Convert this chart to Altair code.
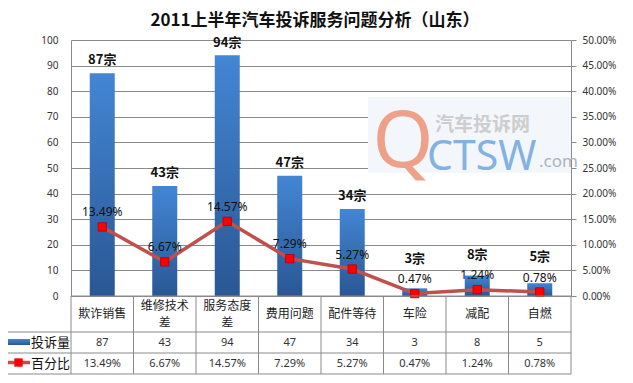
import altair as alt
import pandas as pd

# ---------------- data ----------------
categories = ["欺诈销售", "维修技术差", "服务态度差", "费用问题", "配件等待", "车险", "减配", "自燃"]
table_labels = ["欺诈销售", "维修技术\n差", "服务态度\n差", "费用问题", "配件等待", "车险", "减配", "自燃"]
counts = [87, 43, 94, 47, 34, 3, 8, 5]
pcts = [0.1349, 0.0667, 0.1457, 0.0729, 0.0527, 0.0047, 0.0124, 0.0078]
left_ticks = [0, 10, 20, 30, 40, 50, 60, 70, 80, 90, 100]
right_ticks = [0.0, 0.05, 0.10, 0.15, 0.20, 0.25, 0.30, 0.35, 0.40, 0.45, 0.50]
title_text = "2011上半年汽车投诉服务问题分析（山东）"
series_names = ["投诉量", "百分比"]

df = pd.DataFrame({"cat": categories, "label": table_labels, "count": counts, "pct": pcts})
df["count_label"] = [f"{c}宗" for c in counts]
df["count_str"] = [str(c) for c in counts]
df["pct_label"] = [f"{p * 100:.2f}%" for p in pcts]
one = pd.DataFrame({"k": [0]})

CJK = "Noto Sans CJK SC"
LAT = "Noto Sans"
GRID = "#8a8a8a"
BAR_TOP = "#4386D4"
BAR_BOT = "#2A5794"
LINE = "#C0504D"
MARK = "#FF0000"

W, H = 500, 256

xenc = alt.X("cat:N", sort=categories,
             scale=alt.Scale(domain=categories, paddingInner=0.6, paddingOuter=0.3),
             axis=None)

bar_grad = alt.Gradient(gradient="linear",
                        stops=[alt.GradientStop(color=BAR_TOP, offset=0),
                               alt.GradientStop(color=BAR_BOT, offset=1)],
                        x1=0, x2=0, y1=0, y2=1)

left_axis = alt.Axis(values=left_ticks, title=None, grid=True, gridColor=GRID,
                     domainColor=GRID, ticks=False, labelPadding=13, labelOverlap=False,
                     labelFont=LAT, labelFontSize=10, labelColor="#333333")
left_scale = alt.Scale(domain=[0, 100])

base = alt.Chart(df)
bars = base.mark_bar(color=bar_grad).encode(
    x=xenc, y=alt.Y("count:Q", scale=left_scale, axis=left_axis))
# bar label sits above its bar, but never lower than just above the percentage label
bar_labels = base.transform_calculate(
    label_y="max(datum.count + 5, datum.pct * 200 + 13.5)"
).mark_text(font=CJK, fontSize=13, fontWeight="bold", color="#111111").encode(
    x=xenc, y=alt.Y("label_y:Q", scale=left_scale, axis=left_axis), text="count_label:N")
left_layer = alt.layer(bars, bar_labels)

right_axis = alt.Axis(orient="right", values=right_ticks, format=".2%", title=None,
                      grid=False, domainColor=GRID, tickColor=GRID, tickSize=5,
                      labelPadding=6, labelFont=LAT, labelFontSize=10, labelOverlap=False,
                      labelColor="#333333")
right_scale = alt.Scale(domain=[0, 0.5])
yr = alt.Y("pct:Q", scale=right_scale, axis=right_axis)
line = base.mark_line(color=LINE, strokeWidth=3.5).encode(x=xenc, y=yr)
points = base.mark_point(shape="square", filled=True, size=70, color=MARK,
                         stroke="#B00000", strokeWidth=0.8, opacity=1).encode(x=xenc, y=yr)
pct_labels = base.mark_text(font=LAT, fontSize=12, dy=-14.5, color="#111111").encode(
    x=xenc, y=yr, text="pct_label:N")
right_layer = alt.layer(line, points, pct_labels)

# ---------------- data table ----------------
tbl_cat1 = base.transform_filter("indexof(datum.label, '\\n') < 0").mark_text(
    font=CJK, fontSize=12, color="#222222").encode(
    x=xenc, y=alt.value(274), text="label:N")
tbl_cat2 = base.transform_filter("indexof(datum.label, '\\n') >= 0").mark_text(
    font=CJK, fontSize=12, lineBreak="\n", lineHeight=17, color="#222222").encode(
    x=xenc, y=alt.value(265.5), text="label:N")
tbl_cnt = base.mark_text(font=LAT, fontSize=11, color="#333333").encode(
    x=xenc, y=alt.value(302.5), text="count_str:N")
tbl_pct = base.mark_text(font=LAT, fontSize=11, color="#333333").encode(
    x=xenc, y=alt.value(323.5), text="pct_label:N")

vlines = base.mark_rule(color=GRID, xOffset=-31.25).encode(
    x=xenc, y=alt.value(256), y2=alt.value(334))
vline_end = alt.Chart(one).mark_rule(color=GRID).encode(
    x=alt.value(W), y=alt.value(256), y2=alt.value(334))
vline_left = alt.Chart(one).mark_rule(color=GRID).encode(
    x=alt.value(-66), y=alt.value(292), y2=alt.value(334))
hline_axis = alt.Chart(one).mark_rule(color=GRID).encode(
    x=alt.value(0), x2=alt.value(W), y=alt.value(256))
hlines = [alt.Chart(one).mark_rule(color=GRID).encode(
    x=alt.value(-66), x2=alt.value(W), y=alt.value(yy)) for yy in (292, 313, 334)]

leg_rect = alt.Chart(one).mark_rect(color=bar_grad).encode(
    x=alt.value(-64), x2=alt.value(-41), y=alt.value(299), y2=alt.value(305))
leg_line = alt.Chart(one).mark_rule(color=LINE, strokeWidth=3.5).encode(
    x=alt.value(-64), x2=alt.value(-41), y=alt.value(322.5))
leg_pt = alt.Chart(one).mark_point(shape="square", filled=True, size=70, color=MARK,
                                   opacity=1).encode(x=alt.value(-52.5), y=alt.value(322.5))
leg_t1 = alt.Chart(one).mark_text(font=CJK, fontSize=13, align="left", color="#111111").encode(
    x=alt.value(-40), y=alt.value(302.5), text=alt.value(series_names[0]))
leg_t2 = alt.Chart(one).mark_text(font=CJK, fontSize=13, align="left", color="#111111").encode(
    x=alt.value(-40), y=alt.value(323.5), text=alt.value(series_names[1]))

# ---------------- title ----------------
title = alt.Chart(one).mark_text(font=CJK, fontSize=17, fontWeight="bold",
                                 color="#111111").encode(
    x=alt.value(244), y=alt.value(-19), text=alt.value(title_text))

# ---------------- watermark ----------------
wm_bg = alt.Chart(one).mark_rect(color="#F3F7FC").encode(
    x=alt.value(297), x2=alt.value(W), y=alt.value(57), y2=alt.value(133))
wm_q = alt.Chart(one).mark_text(font=LAT, fontSize=78, color="#EE9275", opacity=0.85,
                                baseline="alphabetic").encode(
    x=alt.value(332), y=alt.value(127), text=alt.value("Q"))
wm_ctsw = alt.Chart(one).mark_text(font=LAT, fontSize=41, color="#6FA6DE", opacity=0.85,
                                   align="left", baseline="alphabetic").encode(
    x=alt.value(356), y=alt.value(130), text=alt.value("CTSW"))
wm_com = alt.Chart(one).mark_text(font=LAT, fontSize=17, color="#A9B4C0", align="left",
                                  baseline="alphabetic").encode(
    x=alt.value(468), y=alt.value(127), text=alt.value(".com"))
wm_cn = alt.Chart(one).mark_text(font=CJK, fontSize=19, fontWeight="bold", color="#CDCDCD",
                                 align="left").encode(
    x=alt.value(364), y=alt.value(85), text=alt.value("汽车投诉网"))

main = alt.layer(left_layer, right_layer).resolve_scale(y="independent")

chart = alt.layer(
    wm_bg, wm_q, wm_ctsw, wm_com, wm_cn,
    main,
    tbl_cat1, tbl_cat2, tbl_cnt, tbl_pct, vlines, vline_end, vline_left, hline_axis, *hlines,
    leg_rect, leg_line, leg_pt, leg_t1, leg_t2, title,
).properties(
    width=W, height=H,
    autosize=alt.AutoSizeParams(type="none"),
    padding={"left": 63, "top": 32, "right": 54, "bottom": 79},
    background="white",
).configure_view(stroke=None)

chart.save("out.html", embed_options={"renderer": "svg", "actions": False})
